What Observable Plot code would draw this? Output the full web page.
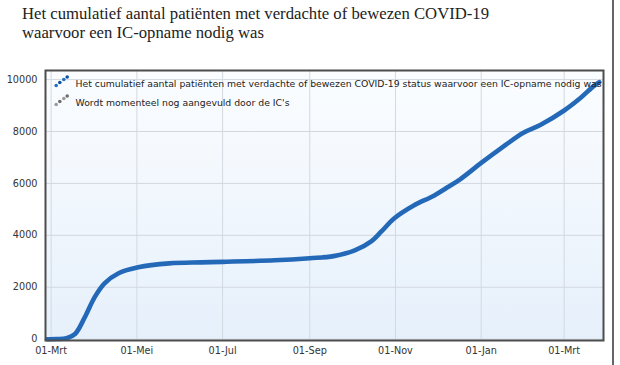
<!DOCTYPE html>
<html>
<head>
<meta charset="utf-8">
<script src="https://cdn.jsdelivr.net/npm/d3@7"></script>
<script src="https://cdn.jsdelivr.net/npm/@observablehq/plot@0.6"></script>
<style>
  html, body { margin: 0; padding: 0; background: #fff; }
  body { width: 620px; height: 365px; position: relative; overflow: hidden; }
  #title { position: absolute; left: 22px; top: 4px; font-family: "Liberation Serif", "DejaVu Serif", serif; font-size: 16.7px; line-height: 19px; color: #222; }
  #chart { position: absolute; left: 0; top: 48px; }
  #edge { position: absolute; left: 612px; top: 0; width: 2px; height: 365px; background: #666; }
</style>
</head>
<body>
<div id="title">Het cumulatief aantal patiënten met verdachte of bewezen COVID-19<br>waarvoor een IC-opname nodig was</div>
<div id="chart"></div>
<div id="edge"></div>
<script>
const dates = ["2020-02-27","2020-03-05","2020-03-12","2020-03-18","2020-03-25","2020-04-01","2020-04-08","2020-04-18","2020-05-02","2020-05-24","2020-06-16","2020-07-01","2020-08-07","2020-09-01","2020-09-18","2020-10-03","2020-10-15","2020-10-22","2020-10-31","2020-11-14","2020-11-28","2020-12-08","2020-12-17","2021-01-01","2021-01-15","2021-01-31","2021-02-12","2021-03-01","2021-03-13","2021-03-22","2021-03-26"];
const values = [0,5,40,200,850,1620,2150,2540,2770,2920,2960,2980,3040,3120,3200,3420,3780,4150,4650,5150,5520,5850,6160,6790,7350,7950,8250,8810,9310,9750,9900];
const xTicks = ["2020-03-01","2020-05-01","2020-07-01","2020-09-01","2020-11-01","2021-01-01","2021-03-01"];
const xTickLabels = ["01-Mrt","01-Mei","01-Jul","01-Sep","01-Nov","01-Jan","01-Mrt"];
const yTicks = [0,2000,4000,6000,8000,10000];
const legendLabels = ["Het cumulatief aantal patiënten met verdachte of bewezen COVID-19 status waarvoor een IC-opname nodig was", "Wordt momenteel nog aangevuld door de IC's"];
const legendColors = [["#1f6fc5","#0d4f9e"],["#9a9a9a","#6e6e6e"]];

const data = dates.map((d, i) => ({date: new Date(d), value: values[i]}));
const tickDates = xTicks.map(d => new Date(d));

const font = "DejaVu Sans, Verdana, sans-serif";

const legendMarks = [];
legendLabels.forEach((lab, k) => {
  const base = 15 + k * 19;
  const offs = [[10.7, 0], [14.3, -3], [18.3, -6], [21.7, -8.5]];
  offs.forEach(([dx, dy], j) => {
    legendMarks.push(Plot.dot([0], {frameAnchor: "top-left", dx, dy: base + dy, r: 1.8, fill: legendColors[k][j % 2], stroke: "none"}));
  });
  legendMarks.push(Plot.text([lab], {frameAnchor: "top-left", dx: 30, dy: base - 1, text: d => d, textAnchor: "start", lineAnchor: "middle", fontSize: 9.3, fill: "#222", fontFamily: font}));
});

const chart = Plot.plot({
  width: 620,
  height: 317,
  marginTop: 22,
  marginBottom: 25,
  marginLeft: 45,
  marginRight: 17,
  style: {fontFamily: font, fontSize: "9.7px", color: "#333", background: "transparent"},
  x: {type: "utc", domain: [new Date("2020-02-26"), new Date("2021-03-29")]},
  y: {domain: [-50, 10350]},
  marks: [
    Plot.frame({fill: "url(#bgGrad)", stroke: "none"}),
    Plot.gridX(tickDates, {stroke: "#d3d9e0", strokeOpacity: 1}),
    Plot.gridY(yTicks, {stroke: "#d3d9e0", strokeOpacity: 1}),
    Plot.axisX({ticks: tickDates, tickFormat: (d, i) => xTickLabels[i], tickSize: 0, tickPadding: 7, label: null, fill: "#333"}),
    Plot.axisY({ticks: yTicks, tickFormat: d => String(d), tickSize: 0, tickPadding: 8, label: null, fill: "#333"}),
    Plot.line(data, {x: "date", y: "value", stroke: "#2468b8", strokeWidth: 4.6, curve: "catmull-rom"}),
    ...legendMarks,
    Plot.frame({stroke: "#4d4d4d", strokeWidth: 2, fill: "none"})
  ]
});

const svg = d3.select(chart);
const defs = svg.insert("defs", ":first-child");
const grad = defs.append("linearGradient").attr("id", "bgGrad").attr("x1", 0).attr("y1", 0).attr("x2", 0).attr("y2", 1);
grad.append("stop").attr("offset", "0%").attr("stop-color", "#fbfdff");
grad.append("stop").attr("offset", "100%").attr("stop-color", "#e6f0fb");

document.getElementById("chart").appendChild(chart);
</script>
</body>
</html>
